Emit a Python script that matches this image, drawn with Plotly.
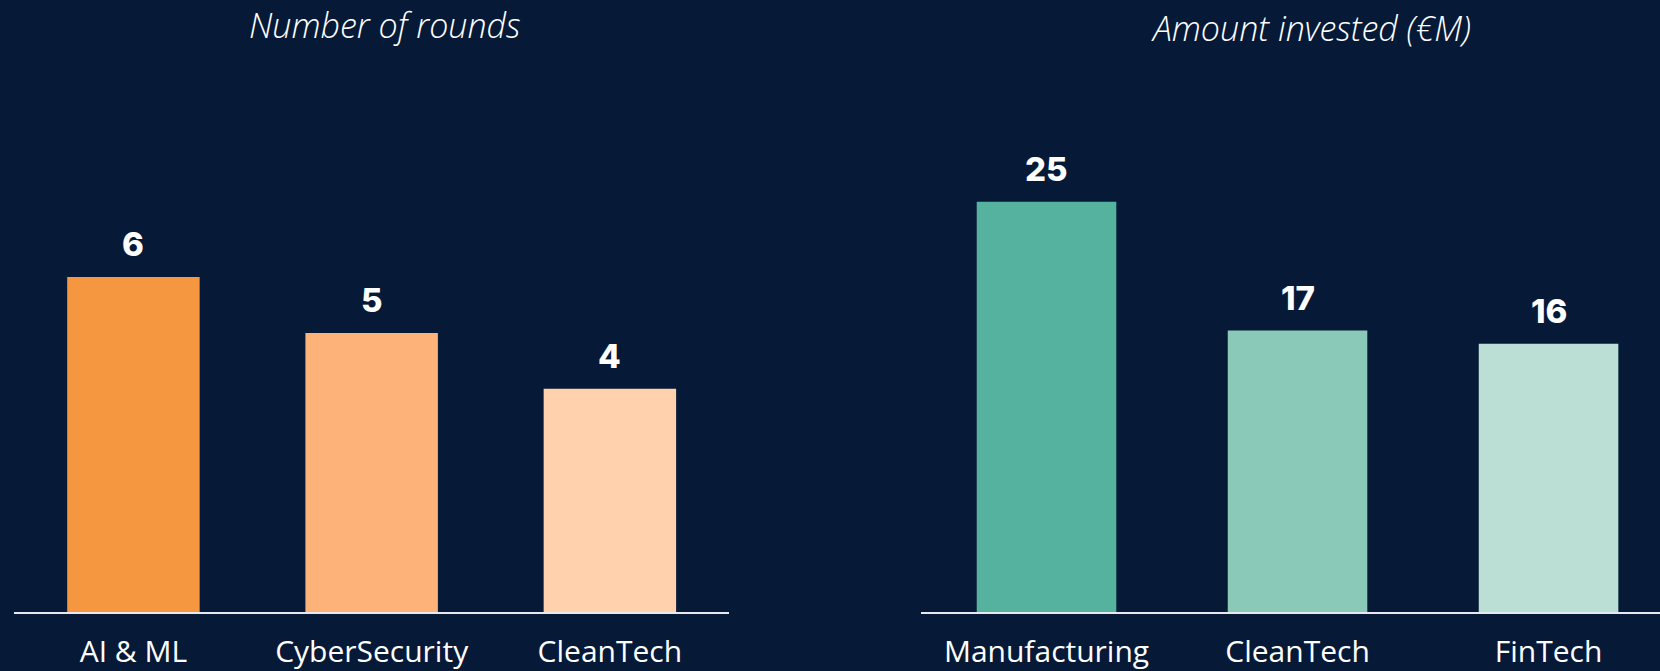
import plotly.graph_objects as go
from plotly.subplots import make_subplots

# Data
rounds_categories = ["AI & ML", "CyberSecurity", "CleanTech"]
rounds_values = [6, 5, 4]
amount_categories = ["Manufacturing", "CleanTech", "FinTech"]
amount_values = [25, 17.15, 16.35]
rounds_title = "Number of rounds"
amount_title = "Amount invested (€M)"

rounds_colors = ["#F59641", "#FDB27A", "#FFD1AC"]
amount_colors = ["#55B29F", "#8AC8B8", "#BBDFD5"]
BG = "#061A38"

fig = make_subplots(rows=1, cols=2)

fig.add_trace(go.Bar(x=rounds_categories, y=rounds_values, marker_color=rounds_colors,
                     marker_line_width=0, width=0.556, hoverinfo="skip"), row=1, col=1)
fig.add_trace(go.Bar(x=amount_categories, y=amount_values, marker_color=amount_colors,
                     marker_line_width=0, width=0.556, hoverinfo="skip"), row=1, col=2)

num_font = dict(family="Inter", size=33, color="white", weight=800)
for xref, yref, cats, vals in [("x", "y", rounds_categories, rounds_values),
                               ("x2", "y2", amount_categories, amount_values)]:
    for c, v in zip(cats, vals):
        fig.add_annotation(x=c, y=v, xref=xref, yref=yref, text=f"{v:.0f}",
                           showarrow=False, yanchor="middle", yshift=33, font=num_font)

title_font = dict(family="Open Sans", size=34, color="white", style="italic", weight=300)
fig.add_annotation(x=384.5 / 1660, y=1.0, xref="paper", yref="paper",
                   xanchor="center", yanchor="top",
                   text=rounds_title, showarrow=False, font=title_font)
fig.add_annotation(x=1311 / 1660, y=1 - 28.5 / 671, xref="paper", yref="paper",
                   xanchor="center", yanchor="middle",
                   text=amount_title, showarrow=False, font=title_font)

tick_font = dict(family="Open Sans", size=30, color="white", weight=400)
fig.update_layout(
    width=1660, height=671,
    paper_bgcolor=BG, plot_bgcolor=BG,
    margin=dict(l=0, r=0, t=0, b=0),
    showlegend=False,
)
fig.update_xaxes(showgrid=False, zeroline=False, showline=True, linecolor="#E8E8EE",
                 linewidth=2, ticks="", tickfont=tick_font, fixedrange=True,
                 ticklabelstandoff=12)
fig.update_yaxes(showgrid=False, zeroline=False, showticklabels=False, showline=False, fixedrange=True)

fig.update_layout(
    xaxis=dict(domain=[14.3 / 1660, 729 / 1660], range=[-0.5, 2.5]),
    xaxis2=dict(domain=[921 / 1660, 1.0], range=[-0.5, 2.444]),
    yaxis=dict(domain=[52.5 / 671, 611 / 671], range=[0, 9.899]),
    yaxis2=dict(domain=[52.5 / 671, 611 / 671], range=[0, 33.68]),
)

fig.write_html("out.html", config={"displayModeBar": False},
               post_script="document.body.style.margin='0';document.body.style.overflow='hidden';")
